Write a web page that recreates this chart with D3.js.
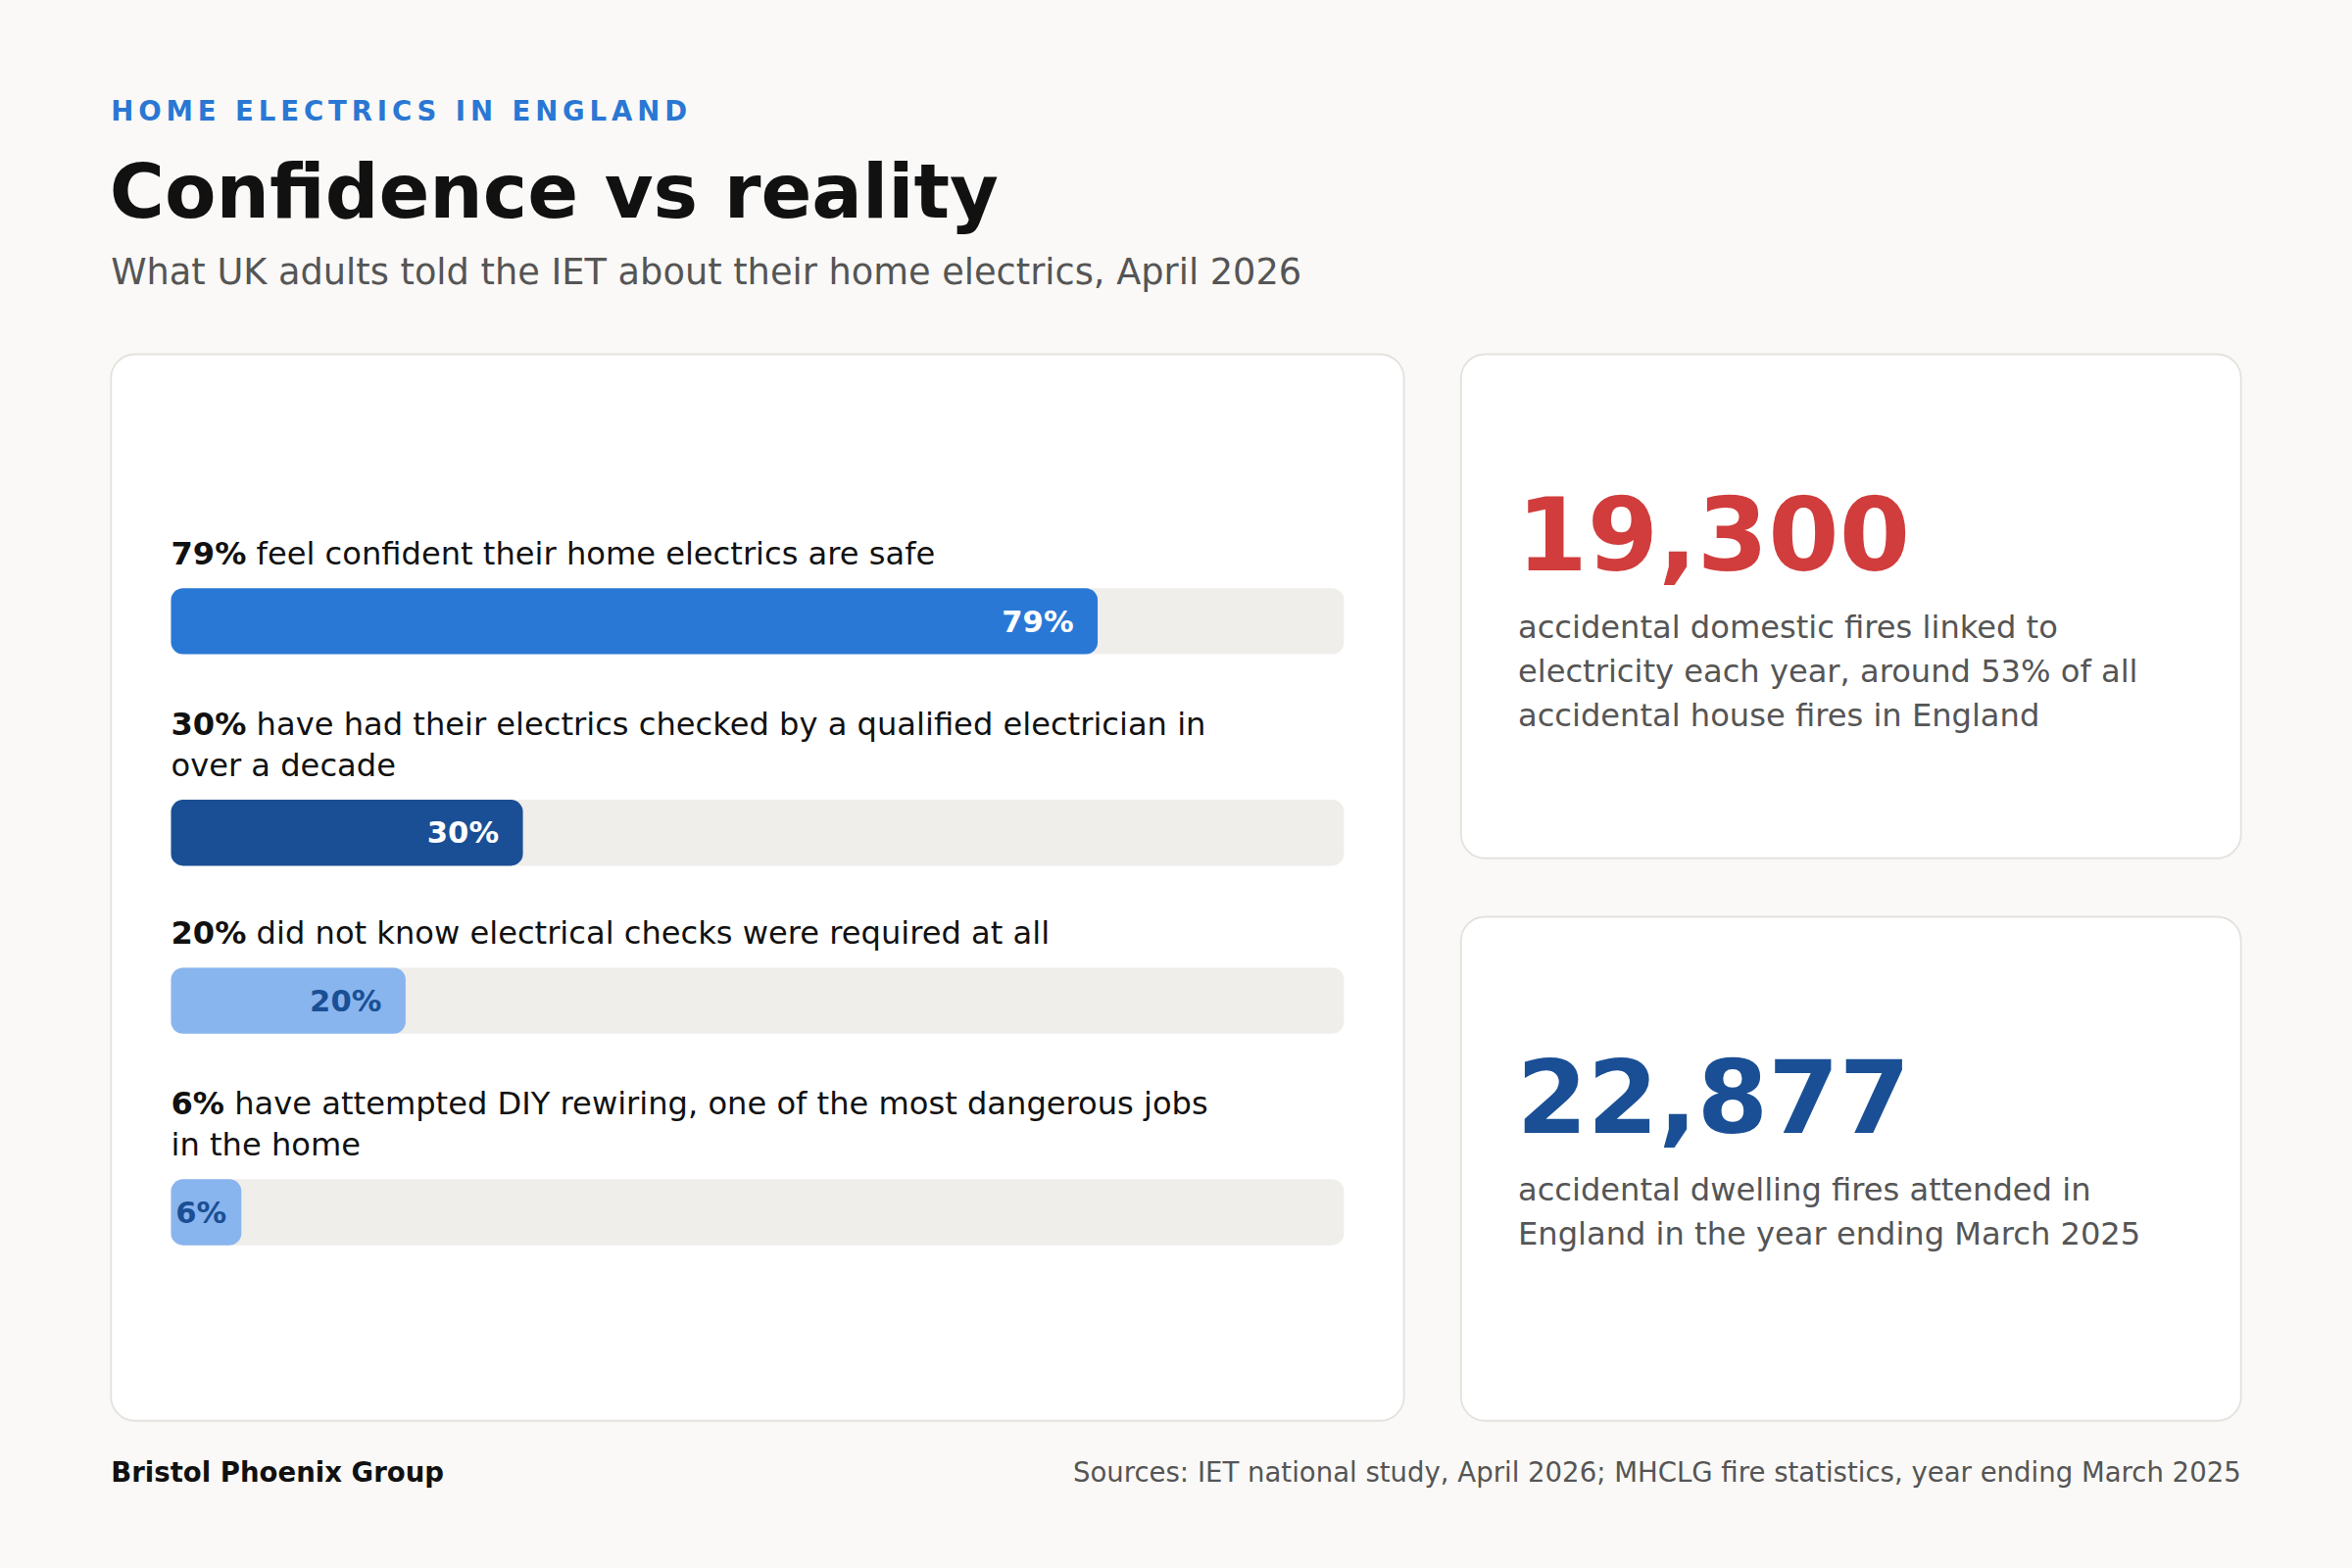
<!DOCTYPE html>
<html><head><meta charset="utf-8">
<script src="https://cdn.jsdelivr.net/npm/d3@7"></script>
<style>html,body{margin:0;padding:0;background:#faf9f7;}svg{display:block;font-family:"DejaVu Sans",sans-serif;}</style>
</head><body>
<svg id="c" width="2400" height="1600" viewBox="0 0 1568 1045"></svg>
<script>
const statValues = [79, 30, 20, 6];
const statLeads = ["79%", "30%", "20%", "6%"];
const statTexts = [
  " feel confident their home electrics are safe",
  " have had their electrics checked by a qualified electrician in over a decade",
  " did not know electrical checks were required at all",
  " have attempted DIY rewiring, one of the most dangerous jobs in the home"
];
const barColors = ["#2a78d6", "#1a4f95", "#89b5ee", "#89b5ee"];
const valueColors = ["#ffffff", "#ffffff", "#1a4f95", "#1a4f95"];
const bigNumbers = ["19,300", "22,877"];
const bigColors = ["#d13c3c", "#1a4f95"];
const bigDescs = [
  ["accidental domestic fires linked to", "electricity each year, around 53% of all", "accidental house fires in England"],
  ["accidental dwelling fires attended in", "England in the year ending March 2025"]
];

const svg = d3.select("#c");
svg.append("rect").attr("width",1568).attr("height",1045).attr("fill","#faf9f7");
svg.append("text").attr("x",74).attr("y",80).attr("font-size",18).attr("font-weight","bold")
  .attr("letter-spacing",3.2).attr("fill","#2a77d4").text("HOME ELECTRICS IN ENGLAND");
svg.append("text").attr("x",73).attr("y",145).attr("font-size",50).attr("font-weight","bold")
  .attr("fill","#111").text("Confidence vs reality");
svg.append("text").attr("x",74).attr("y",189).attr("font-size",24).attr("fill","#555")
  .text("What UK adults told the IET about their home electrics, April 2026");

function card(x,y,w,h){svg.append("rect").attr("x",x).attr("y",y).attr("width",w).attr("height",h)
  .attr("rx",16).attr("fill","#fff").attr("stroke","#e4e2de").attr("stroke-width",1.2);}
card(74,236,862,711); card(974,236,520,336); card(974,611,520,336);

const x = d3.scaleLinear().domain([0,100]).range([114,896]);
const barH = 44;
let y = 376;
statValues.forEach((v,i)=>{
  // wrap label
  const words = (statLeads[i]+statTexts[i]).split(" ");
  const lines=[]; let cur="";
  const probe = svg.append("text").attr("font-size",21).attr("font-weight","bold");
  words.forEach(w=>{
    const t = cur ? cur+" "+w : w;
    probe.text(t);
    if(probe.node().getComputedTextLength() > 782 && cur){lines.push(cur); cur=w;} else cur=t;
  });
  lines.push(cur); probe.remove();
  lines.forEach((ln,j)=>{
    const t = svg.append("text").attr("x",114).attr("y",y+j*27).attr("font-size",21).attr("fill","#111");
    if(j===0){
      t.append("tspan").attr("font-weight","bold").text(statLeads[i]);
      t.append("tspan").text(ln.slice(statLeads[i].length));
    } else t.text(ln);
  });
  const by = y + (lines.length-1)*27 + 16;
  svg.append("rect").attr("x",x(0)).attr("y",by).attr("width",x(100)-x(0)).attr("height",barH)
    .attr("rx",8).attr("fill","#efeeeb");
  svg.append("rect").attr("x",x(0)).attr("y",by).attr("width",x(v)-x(0)).attr("height",barH)
    .attr("rx",8).attr("fill",barColors[i]);
  svg.append("text").attr("x",Math.max(x(v)-16, x(0)+37)).attr("y",by+barH/2+7)
    .attr("text-anchor","end").attr("font-size",20).attr("font-weight","bold")
    .attr("fill",valueColors[i]).text(v+"%");
  y = by + barH + 54 + (i===1?-2:0);
});

const cardTops=[236,611];
bigNumbers.forEach((n,i)=>{
  const t0 = cardTops[i];
  svg.append("text").attr("x",1011).attr("y",t0+144).attr("font-size",68).attr("font-weight","bold")
    .attr("fill",bigColors[i]).text(n);
  bigDescs[i].forEach((l,j)=>svg.append("text").attr("x",1012).attr("y",t0+189+j*29.5)
    .attr("font-size",21).attr("fill","#555").text(l));
});

svg.append("text").attr("x",74).attr("y",988).attr("font-size",18).attr("font-weight","bold")
  .attr("fill","#111").text("Bristol Phoenix Group");
svg.append("text").attr("x",1494).attr("y",988).attr("text-anchor","end").attr("font-size",18)
  .attr("fill","#555").text("Sources: IET national study, April 2026; MHCLG fire statistics, year ending March 2025");
</script>
</body></html>
